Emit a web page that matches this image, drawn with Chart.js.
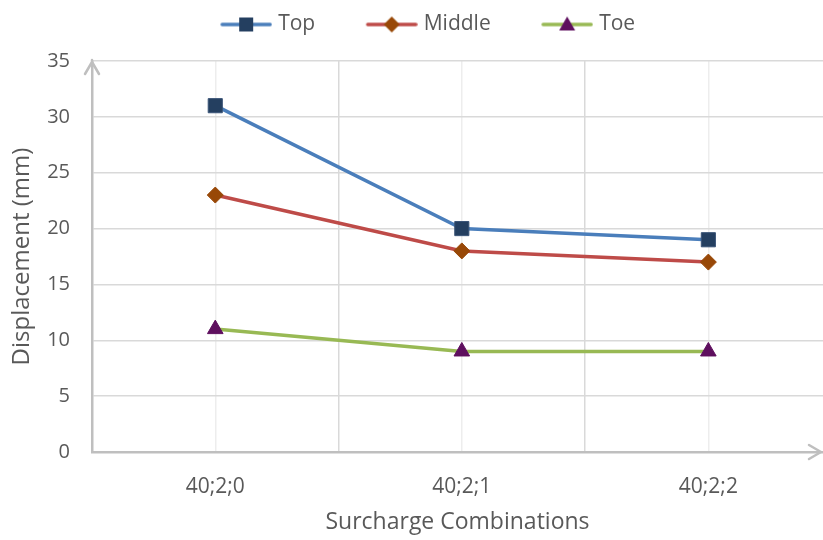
<!DOCTYPE html>
<html><head><meta charset="utf-8">
<script src="https://cdn.jsdelivr.net/npm/chart.js@4/dist/chart.umd.min.js"></script>
<style>html,body{margin:0;padding:0;background:#fff}</style>
</head><body>
<canvas id="c" width="823" height="540"></canvas>
<script>
const categories = ['40;2;0', '40;2;1', '40;2;2'];
const topValues = [31, 20, 19];
const middleValues = [23, 18, 17];
const toeValues = [11, 9, 9];
const yTicks = [0, 5, 10, 15, 20, 25, 30, 35];

const FONT = "'Open Sans', 'Liberation Sans', sans-serif";
const TEXT = '#595959';

// legend glyph: line with marker, sitting at the right end of a wider transparent canvas
function legendIcon(lineColor, markerColor, shape) {
  const c = document.createElement('canvas');
  c.width = 97; c.height = 18;
  const g = c.getContext('2d');
  const ox = 97 - 52;
  g.strokeStyle = lineColor; g.lineWidth = 3.5; g.lineCap = 'round';
  g.beginPath(); g.moveTo(ox + 2, 9); g.lineTo(ox + 50, 9); g.stroke();
  g.fillStyle = markerColor;
  g.beginPath();
  if (shape === 'rect') { g.rect(ox + 19, 2, 14, 14); }
  else if (shape === 'diamond') { g.moveTo(ox + 26, 1); g.lineTo(ox + 34, 9); g.lineTo(ox + 26, 17); g.lineTo(ox + 18, 9); g.closePath(); }
  else { g.moveTo(ox + 26, 1); g.lineTo(ox + 34, 15); g.lineTo(ox + 18, 15); g.closePath(); }
  g.fill();
  return c;
}
const icons = [
  legendIcon('#4A7EBB', '#243F60', 'rect'),
  legendIcon('#BE4B48', '#984807', 'diamond'),
  legendIcon('#98B954', '#5E0F5E', 'tri')
];

function pts(arr) { return arr.map((y, i) => ({ x: i, y: y })); }

const arrowPlugin = {
  id: 'arrows',
  afterDraw(chart) {
    const a = chart.chartArea, ctx = chart.ctx;
    const xr = Math.min(a.right, chart.width - 1);
    ctx.save();
    ctx.strokeStyle = '#BFBFBF'; ctx.lineWidth = 2.5; ctx.lineCap = 'round'; ctx.lineJoin = 'round';
    ctx.beginPath();
    ctx.moveTo(a.left, a.top + 2); ctx.lineTo(a.left, a.top - 1);
    ctx.moveTo(a.left - 7, a.top + 13); ctx.lineTo(a.left, a.top + 1); ctx.lineTo(a.left + 7, a.top + 13);
    ctx.stroke();
    ctx.beginPath();
    ctx.moveTo(xr - 13, a.bottom - 7); ctx.lineTo(xr - 1, a.bottom); ctx.lineTo(xr - 13, a.bottom + 7);
    ctx.stroke();
    ctx.restore();
  }
};

new Chart(document.getElementById('c'), {
  type: 'line',
  data: {
    datasets: [
      { label: 'Top', data: pts(topValues), borderColor: '#4A7EBB', borderWidth: 3.5,
        pointStyle: 'rect', pointRadius: 10, pointHoverRadius: 10,
        pointBackgroundColor: '#243F60', pointBorderColor: '#3B5578', pointBorderWidth: 1 },
      { label: 'Middle', data: pts(middleValues), borderColor: '#BE4B48', borderWidth: 3.5,
        pointStyle: 'rectRot', pointRadius: 8, pointHoverRadius: 8,
        pointBackgroundColor: '#984807', pointBorderColor: '#984807', pointBorderWidth: 1 },
      { label: 'Toe', data: pts(toeValues), borderColor: '#98B954', borderWidth: 3.5,
        pointStyle: 'triangle', pointRadius: 9, pointHoverRadius: 9,
        pointBackgroundColor: '#5E0F5E', pointBorderColor: '#5E0F5E', pointBorderWidth: 1 }
    ]
  },
  options: {
    responsive: false,
    animation: false,
    layout: { autoPadding: false, padding: { left: 30, right: 0, top: 4, bottom: 0 } },
    plugins: {
      tooltip: { enabled: false },
      title: { display: true, text: '', font: { size: 1, lineHeight: 1 }, padding: { top: 15, bottom: 0 } },
      legend: {
        position: 'top',
        weight: 3000,
        labels: {
          usePointStyle: true,
          pointStyleWidth: 88,
          padding: 10,
          font: { family: FONT, size: 21 },
          color: TEXT,
          generateLabels: (chart) => chart.data.datasets.map((ds, i, all) => ({
            text: ds.label + (i === all.length - 1 ? '       ' : ''),
            pointStyle: icons[i], fontColor: TEXT, datasetIndex: i,
            hidden: false, lineWidth: 0, strokeStyle: 'rgba(0,0,0,0)', fillStyle: 'rgba(0,0,0,0)'
          }))
        }
      }
    },
    scales: {
      x: {
        type: 'linear',
        min: -0.5,
        max: categories.length - 0.535,
        afterBuildTicks: (s) => {
          const t = [];
          for (let v = -0.5; v < categories.length - 0.5; v += 0.5) t.push({ value: v });
          s.ticks = t;
        },
        afterFit: (s) => { s.height = 88; s.paddingLeft = 0; s.paddingRight = 0; },
        grid: {
          drawTicks: false,
          lineWidth: 1.5,
          color: (ctx) => (ctx.tick && Number.isInteger(ctx.tick.value)) ? '#EDEDED' : '#D9D9D9'
        },
        border: { color: '#BFBFBF', width: 2.5 },
        ticks: {
          autoSkip: false, maxRotation: 0, padding: 22,
          font: { family: FONT, size: 21 }, color: TEXT,
          callback: (v) => Number.isInteger(v) ? categories[v] : ''
        },
        title: {
          display: true, text: 'Surcharge Combinations',
          font: { family: FONT, size: 23 }, color: TEXT,
          padding: { top: 0, bottom: 4 }
        }
      },
      y: {
        min: 0, max: 35,
        afterBuildTicks: (s) => { s.ticks = yTicks.map(v => ({ value: v })); },
        afterFit: (s) => { s.width = 62; },
        grid: { drawTicks: false, lineWidth: 1.5, color: '#D9D9D9' },
        border: { color: '#BFBFBF', width: 2.5 },
        ticks: { padding: 22, font: { family: FONT, size: 20 }, color: TEXT },
        title: {
          display: true, text: 'Displacement (mm)',
          font: { family: FONT, size: 24 }, color: TEXT,
          padding: { top: -22, bottom: 0 }
        }
      }
    }
  },
  plugins: [arrowPlugin]
});
</script>
</body></html>
